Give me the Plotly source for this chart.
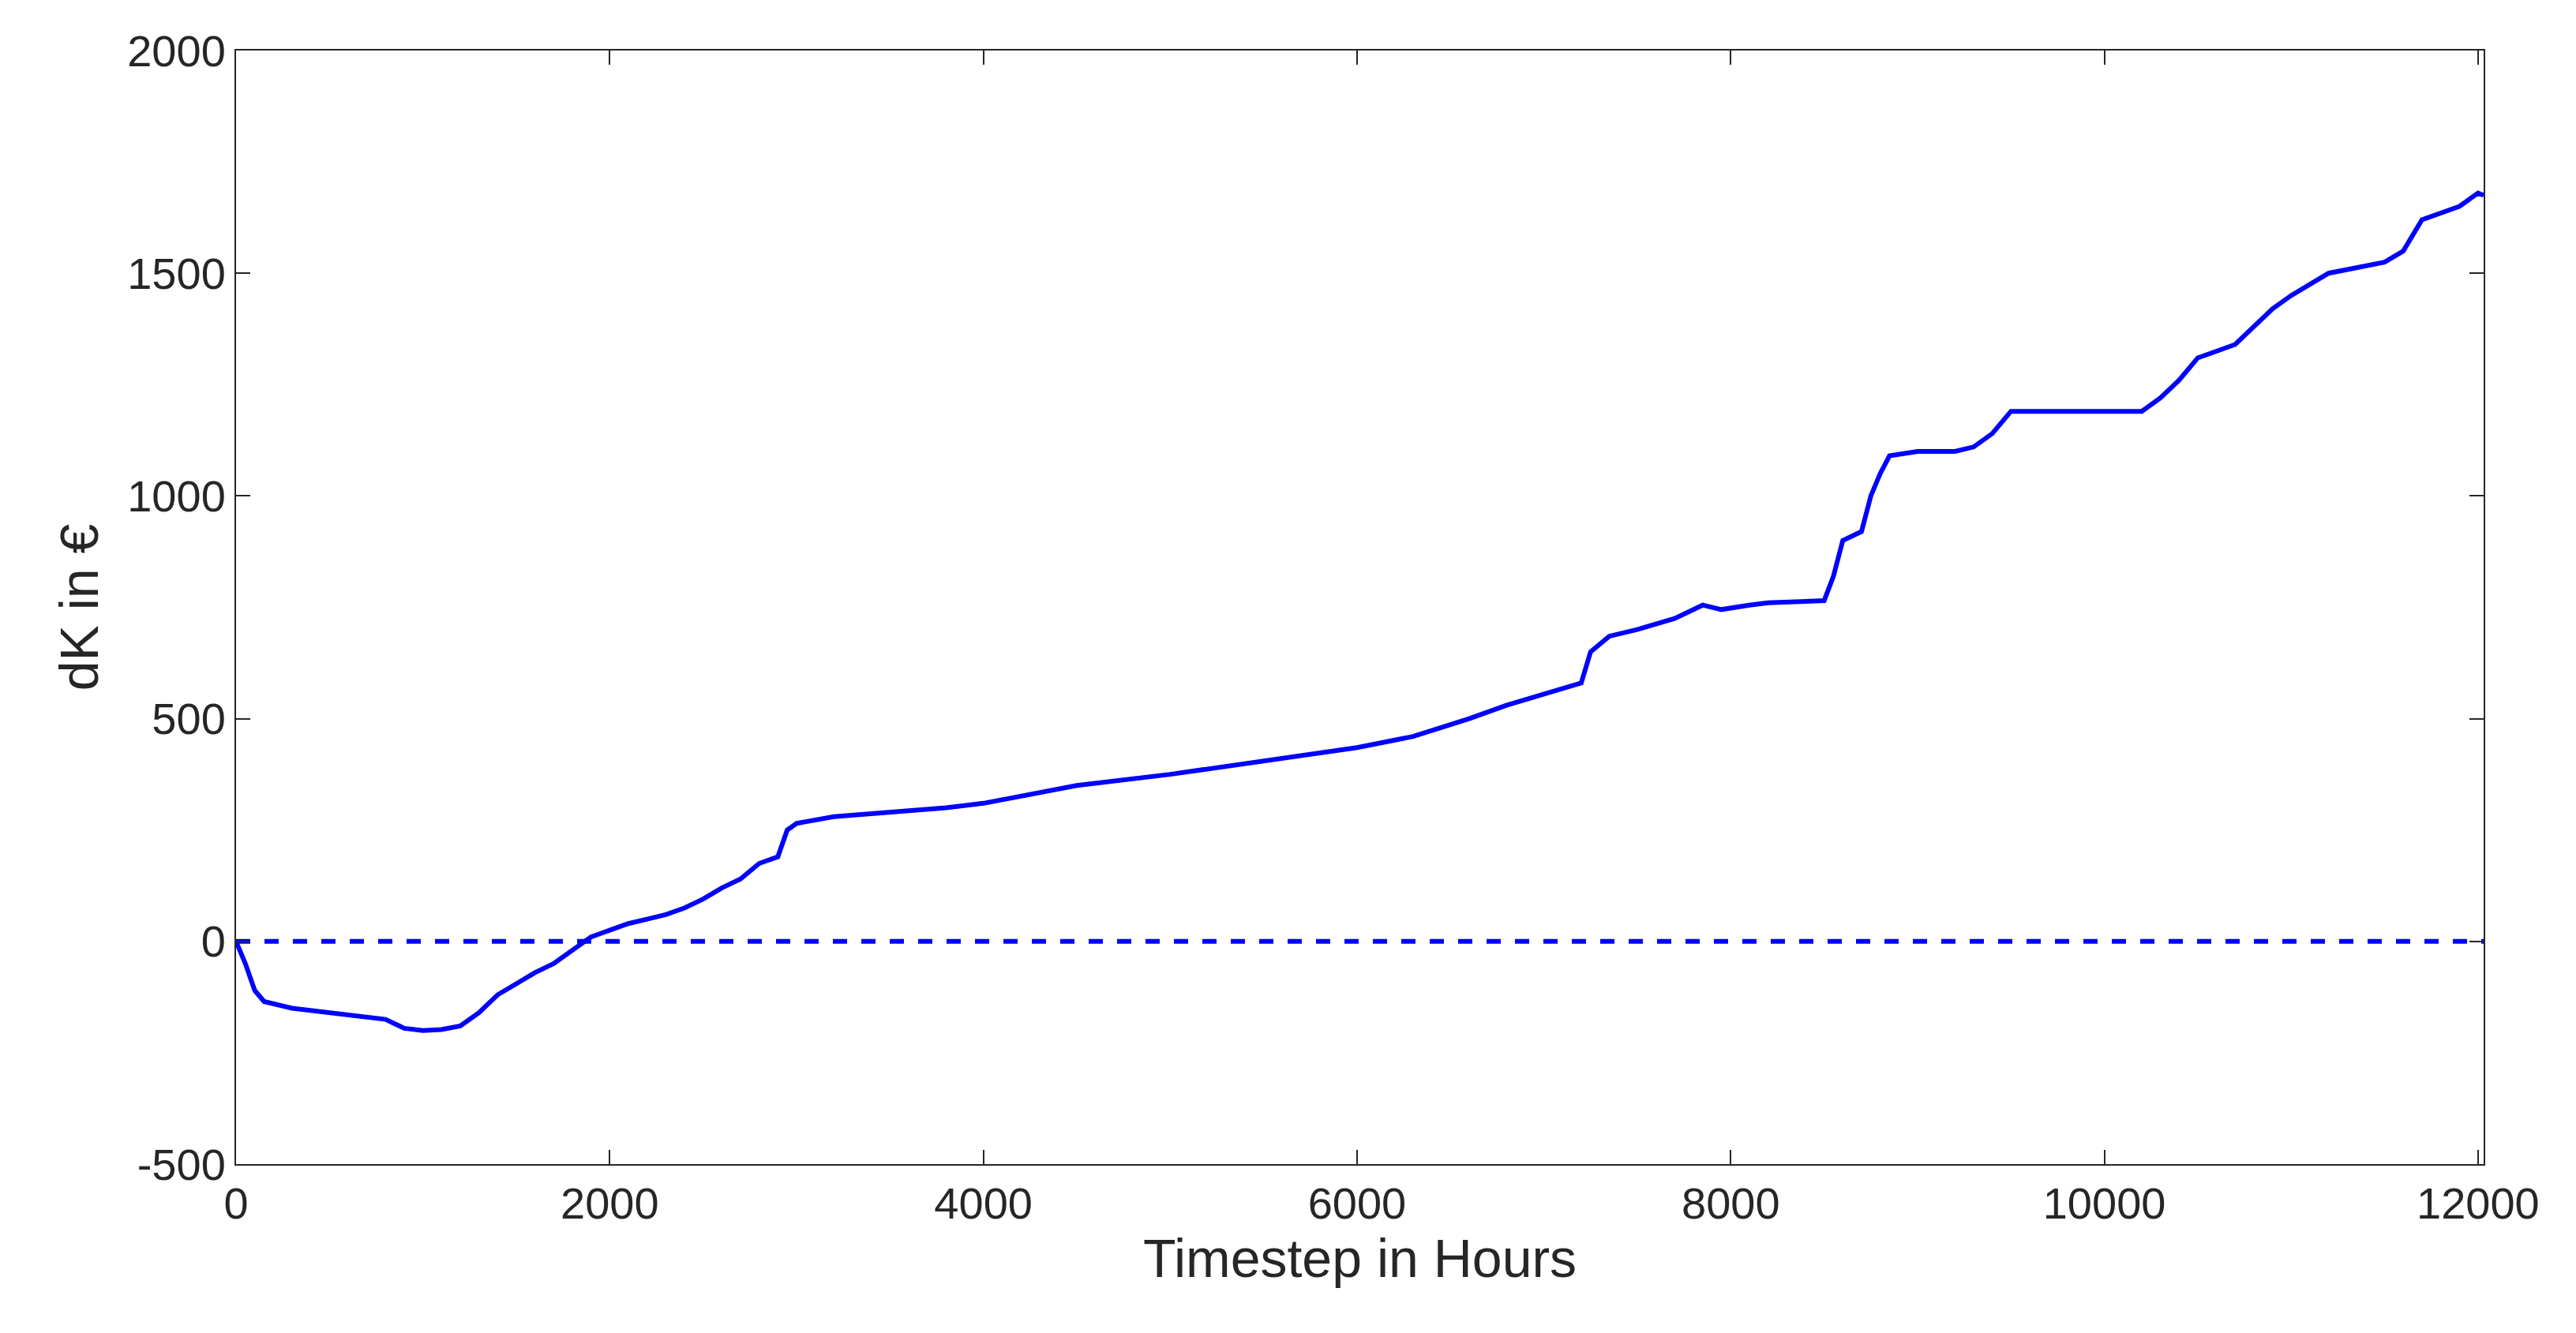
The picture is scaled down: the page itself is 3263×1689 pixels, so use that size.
import plotly.graph_objects as go

hours = [0,50,100,150,300,500,700,800,850,900,1000,1100,1200,1300,1400,1500,1600,1700,1800,1900,2000,2100,2200,2300,2400,2500,2600,2700,2800,2900,2950,3000,3200,3500,3800,4000,4200,4500,5000,5500,6000,6300,6600,6800,7000,7200,7250,7350,7500,7700,7850,7950,8100,8200,8500,8550,8600,8700,8750,8800,8850,9000,9200,9300,9400,9500,9800,10200,10300,10400,10500,10700,10900,11000,11200,11500,11600,11700,11900,12000,12030]
dk = [0,-50,-110,-135,-150,-160,-170,-175,-185,-195,-200,-198,-190,-160,-120,-95,-70,-50,-20,10,25,40,50,60,75,95,120,140,175,190,250,265,280,290,300,310,325,350,375,405,435,460,500,530,555,580,650,685,700,725,755,745,755,760,765,820,900,920,1000,1050,1090,1100,1100,1110,1140,1190,1190,1190,1220,1260,1310,1340,1420,1450,1500,1525,1550,1620,1650,1680,1675]
zero_x = [0, 12030]
zero_y = [0, 0]
x_ticks = [0, 2000, 4000, 6000, 8000, 10000, 12000]
x_labels = ["0", "2000", "4000", "6000", "8000", "10000", "12000"]
y_ticks = [-500, 0, 500, 1000, 1500, 2000]
y_labels = ["-500", "0", "500", "1000", "1500", "2000"]

fig = go.Figure()
fig.add_trace(go.Scatter(x=zero_x, y=zero_y, mode="lines", line=dict(color="#0000FF", width=6, dash="dash")))
fig.add_trace(go.Scatter(x=hours, y=dk, mode="lines", line=dict(color="#0000FF", width=6)))

F = "Arial, Liberation Sans"
ax = dict(showgrid=False, zeroline=False, showline=True, linecolor="#262626", linewidth=2, mirror="ticks",
          ticks="inside", ticklen=18, tickwidth=2, tickcolor="#262626",
          tickfont=dict(family=F, size=56, color="#262626"))
fig.update_layout(
    width=3263, height=1689, showlegend=False, plot_bgcolor="white", paper_bgcolor="white",
    margin=dict(l=291, r=125, t=56, b=222),
    xaxis=dict(ax, range=[0, 12030], tickvals=x_ticks, ticktext=x_labels,
               title=dict(text="Timestep in Hours", font=dict(family=F, size=68, color="#262626"), standoff=8)),
    yaxis=dict(ax, range=[-500, 2000], tickvals=y_ticks, ticktext=y_labels,
               title=dict(text="dK in €", font=dict(family=F, size=68, color="#262626"), standoff=14)),
)
fig.write_html("out.html")
